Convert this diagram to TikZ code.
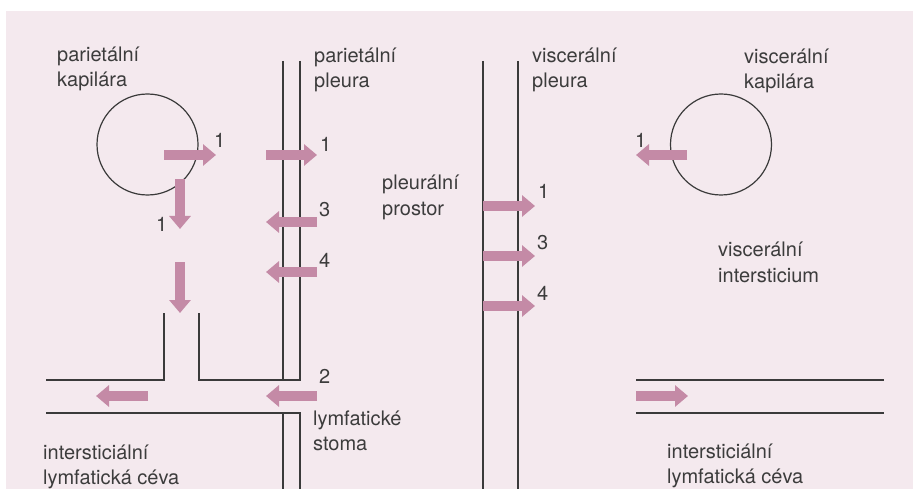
\documentclass[tikz,border=0pt]{standalone}
\usepackage{fontspec}
\setmainfont{TeX Gyre Heros}
\usetikzlibrary{arrows.meta}
\definecolor{bgpink}{HTML}{F4E9EE}
\definecolor{flowc}{HTML}{C48AA6}
\definecolor{linec}{HTML}{3A3A3A}
\definecolor{textc}{HTML}{3C3C3C}
\tikzset{
  wall/.style={draw=linec, line width=1.2pt},
  flow/.style={draw=flowc, line width=10pt, -{Triangle[length=13pt,width=21pt]}},
  lbl/.style={anchor=base west, inner sep=0pt, text=textc, align=left,
              font=\fontsize{20}{25}\selectfont},
  num/.style={anchor=base west, inner sep=0pt, text=textc,
              font=\fontsize{20}{24}\selectfont}
}
\begin{document}
\begin{tikzpicture}[x=1pt,y=-1pt]
\useasboundingbox (0,0) rectangle (913,489);
\fill[white] (0,0) rectangle (913,489);
\fill[bgpink] (6,11) rectangle (913,489);

% capillaries
\node[wall, circle, minimum size=101pt, inner sep=0pt] (pcap) at (147.5,144.5) {};
\node[wall, circle, minimum size=101pt, inner sep=0pt] (vcap) at (721,144.5) {};

% parietal pleura and stoma
\draw[wall] (283,61) -- (283,380);
\draw[wall] (300,61) -- (300,380) -- (199,380) -- (199,313);
\draw[wall] (164,313) -- (164,380) -- (46,380);
\draw[wall] (46,413) -- (300,413) -- (300,489);
\draw[wall] (283,413) -- (283,489);

% visceral pleura
\draw[wall] (483,61) -- (483,489);
\draw[wall] (518,61) -- (518,489);

% visceral lymphatic vessel
\draw[wall] (636,380) -- (884,380);
\draw[wall] (636,413) -- (884,413);

% flows
\coordinate (a1s) at (164,155); \coordinate (a1e) at (216,155);
\coordinate (a2s) at (180,179); \coordinate (a2e) at (180,229);
\coordinate (a3s) at (180,262); \coordinate (a3e) at (180,313);
\draw[flow] (a1s) -- (a1e);
\draw[flow] (a2s) -- (a2e);
\draw[flow] (a3s) -- (a3e);
\coordinate (b1s) at (266,155); \coordinate (b1e) at (317,155);
\coordinate (b3s) at (317,222); \coordinate (b3e) at (266,222);
\coordinate (b4s) at (317,272); \coordinate (b4e) at (266,272);
\coordinate (b2s) at (317,396); \coordinate (b2e) at (266,396);
\draw[flow] (b1s) -- (b1e);
\draw[flow] (b3s) -- (b3e);
\draw[flow] (b4s) -- (b4e);
\draw[flow] (b2s) -- (b2e);
\coordinate (l1s) at (148,396); \coordinate (l1e) at (96,396);
\draw[flow] (l1s) -- (l1e);
\coordinate (c1s) at (483,206); \coordinate (c1e) at (535,206);
\coordinate (c3s) at (483,256); \coordinate (c3e) at (535,256);
\coordinate (c4s) at (483,306); \coordinate (c4e) at (535,306);
\draw[flow] (c1s) -- (c1e);
\draw[flow] (c3s) -- (c3e);
\draw[flow] (c4s) -- (c4e);
\coordinate (d1s) at (687,155); \coordinate (d1e) at (636,155);
\draw[flow] (d1s) -- (d1e);
\coordinate (e1s) at (636,396); \coordinate (e1e) at (688,396);
\draw[flow] (e1s) -- (e1e);

% labels (anchor is the baseline of the last line)
\node[lbl] (tpk) at (57,87) {parietální\\kapilára};
\node[lbl] (tpp) at (314,88) {parietální\\pleura};
\node[lbl] (tvp) at (532,88) {viscerální\\pleura};
\node[lbl] (tvk) at (744,89) {viscerální\\kapilára};
\node[lbl] (tpr) at (382,215) {pleurální\\prostor};
\node[lbl] (tvi) at (718,282) {viscerální\\intersticium};
\node[lbl] (tls) at (313,450) {lymfatické\\stoma};
\node[lbl] (tlc1) at (43,484) {intersticiální\\lymfatická céva};
\node[lbl] (tlc2) at (667,483) {intersticiální\\lymfatická céva};

% numbers
\node[num] (n1) at (214,148) {1};
\node[num] (n2) at (156,232) {1};
\node[num] (n3) at (320,152) {1};
\node[num] (n4) at (319,217) {3};
\node[num] (n5) at (319,267) {4};
\node[num] (n6) at (319,383) {2};
\node[num] (n7) at (538,199) {1};
\node[num] (n8) at (537,250) {3};
\node[num] (n9) at (537,300) {4};
\node[num] (n10) at (635,148) {1};
\end{tikzpicture}
\end{document}
